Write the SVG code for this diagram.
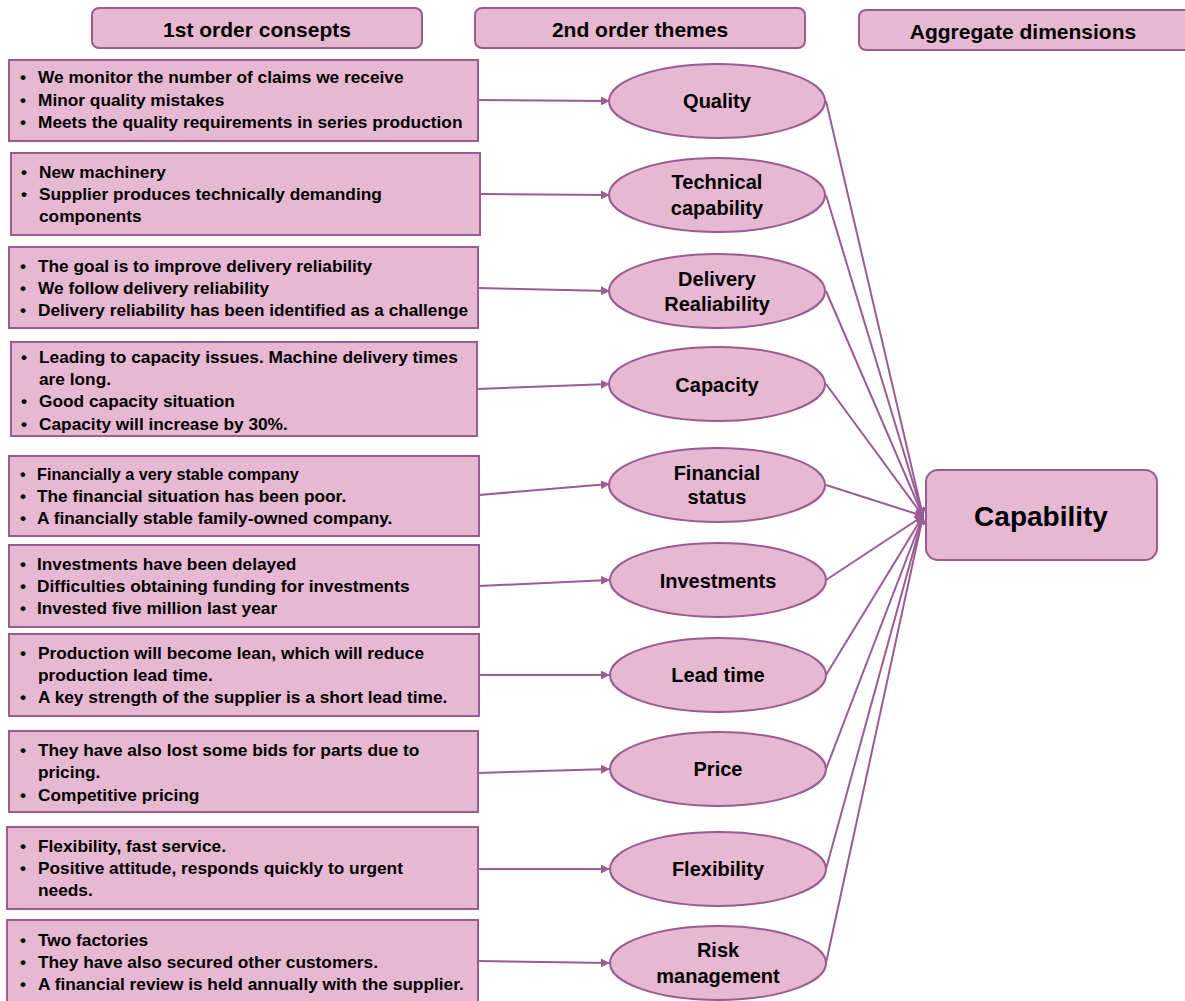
<svg xmlns="http://www.w3.org/2000/svg" width="1185" height="1001" viewBox="0 0 1185 1001">
  <style>
    .box { fill: #e6b8d2; stroke: #9b5b93; stroke-width: 2; }
    .hdr { font-family: "Liberation Sans", Arial, sans-serif; font-weight: bold; font-size: 21px; fill: #000; text-anchor: middle; dominant-baseline: central; }
    .txt { font-family: "Liberation Sans", Arial, sans-serif; font-weight: bold; font-size: 17.3px; fill: #000; dominant-baseline: central; }
    .sm { font-size: 16.2px; }
    .lbl { font-family: "Liberation Sans", Arial, sans-serif; font-weight: bold; font-size: 20px; fill: #000; text-anchor: middle; dominant-baseline: central; }
    .big { font-family: "Liberation Sans", Arial, sans-serif; font-weight: bold; font-size: 28px; fill: #000; text-anchor: middle; dominant-baseline: central; }
    .link { fill: none; stroke: #9b5b93; stroke-width: 2; marker-end: url(#arrow); }
  </style>
  <defs>
    <marker id="arrow" viewBox="0 0 10 10" refX="9" refY="5" markerWidth="4.5" markerHeight="4.5" orient="auto" markerUnits="strokeWidth">
      <path d="M0,0 L10,5 L0,10 z" fill="#9b5b93"/>
    </marker>
  </defs>

  <rect width="1185" height="1001" fill="#fff"/>

  <!-- column headers -->
  <g id="hdr-concepts"><rect class="box" x="92" y="8" width="330" height="40" rx="7"/><text class="hdr" x="257" y="29">1st order consepts</text></g>
  <g id="hdr-themes"><rect class="box" x="475" y="8" width="330" height="40" rx="7"/><text class="hdr" x="640" y="29">2nd order themes</text></g>
  <g id="hdr-dimensions"><rect class="box" x="859" y="10" width="334" height="40" rx="7"/><text class="hdr" x="1023" y="31">Aggregate dimensions</text></g>

  <!-- connectors -->
  <g id="connectors">
    <path class="link" d="M478,100 L609,101"/>
    <path class="link" d="M480,194 L609,195"/>
    <path class="link" d="M478,288 L609,291"/>
    <path class="link" d="M477,389 L609,384"/>
    <path class="link" d="M479,495 L609,484"/>
    <path class="link" d="M479,586 L609,580"/>
    <path class="link" d="M479,675 L609,675"/>
    <path class="link" d="M478,773 L609,769"/>
    <path class="link" d="M478,869 L609,869"/>
    <path class="link" d="M478,961 L609,963"/>

    <path class="link" d="M826,101 L923,516"/>
    <path class="link" d="M826,195 L923,516"/>
    <path class="link" d="M826,291 L923,516"/>
    <path class="link" d="M826,384 L923,516"/>
    <path class="link" d="M826,485 L923,516"/>
    <path class="link" d="M826,580 L923,516"/>
    <path class="link" d="M826,675 L923,516"/>
    <path class="link" d="M826,769 L923,516"/>
    <path class="link" d="M826,869 L923,516"/>
    <path class="link" d="M826,963 L923,516"/>
  </g>

  <!-- 1st order concepts -->
  <g id="c1"><rect class="box" x="9" y="60" width="469" height="81"/>
    <text class="txt" x="20" y="77">•</text><text class="txt" x="38" y="77">We monitor the number of claims we receive</text>
    <text class="txt" x="20" y="100">•</text><text class="txt" x="38" y="100">Minor quality mistakes</text>
    <text class="txt" x="20" y="122">•</text><text class="txt" x="38" y="122">Meets the quality requirements in series production</text>
  </g>
  <g id="c2"><rect class="box" x="11" y="153" width="469" height="82"/>
    <text class="txt" x="21" y="172">•</text><text class="txt" x="39" y="172">New machinery</text>
    <text class="txt" x="21" y="194">•</text><text class="txt" x="39" y="194">Supplier produces technically demanding</text>
    <text class="txt" x="39" y="216">components</text>
  </g>
  <g id="c3"><rect class="box" x="9" y="247" width="469" height="81"/>
    <text class="txt" x="20" y="266">•</text><text class="txt" x="38" y="266">The goal is to improve delivery reliability</text>
    <text class="txt" x="20" y="288">•</text><text class="txt" x="38" y="288">We follow delivery reliability</text>
    <text class="txt" x="20" y="310">•</text><text class="txt" x="38" y="310" textLength="430" lengthAdjust="spacingAndGlyphs">Delivery reliability has been identified as a challenge</text>
  </g>
  <g id="c4"><rect class="box" x="11" y="342" width="466" height="94"/>
    <text class="txt" x="21" y="357">•</text><text class="txt" x="39" y="357">Leading to capacity issues. Machine delivery times</text>
    <text class="txt" x="39" y="379">are long.</text>
    <text class="txt" x="21" y="401">•</text><text class="txt" x="39" y="401">Good capacity situation</text>
    <text class="txt" x="21" y="424">•</text><text class="txt" x="39" y="424">Capacity will increase by 30%.</text>
  </g>
  <g id="c5"><rect class="box" x="9" y="456" width="470" height="80"/>
    <text class="txt sm" x="20" y="474">•</text><text class="txt sm" x="37" y="474">Financially a very stable company</text>
    <text class="txt" x="20" y="496">•</text><text class="txt" x="37" y="496">The financial situation has been poor.</text>
    <text class="txt" x="20" y="518">•</text><text class="txt" x="37" y="518">A financially stable family-owned company.</text>
  </g>
  <g id="c6"><rect class="box" x="9" y="545" width="470" height="82"/>
    <text class="txt" x="20" y="564">•</text><text class="txt" x="37" y="564">Investments have been delayed</text>
    <text class="txt" x="20" y="586">•</text><text class="txt" x="37" y="586">Difficulties obtaining funding for investments</text>
    <text class="txt" x="20" y="608">•</text><text class="txt" x="37" y="608">Invested five million last year</text>
  </g>
  <g id="c7"><rect class="box" x="9" y="634" width="470" height="82"/>
    <text class="txt" x="20" y="653">•</text><text class="txt" x="38" y="653">Production will become lean, which will reduce</text>
    <text class="txt" x="38" y="675">production lead time.</text>
    <text class="txt" x="20" y="697">•</text><text class="txt" x="38" y="697">A key strength of the supplier is a short lead time.</text>
  </g>
  <g id="c8"><rect class="box" x="9" y="731" width="469" height="81"/>
    <text class="txt" x="20" y="750">•</text><text class="txt" x="38" y="750">They have also lost some bids for parts due to</text>
    <text class="txt" x="38" y="772">pricing.</text>
    <text class="txt" x="20" y="795">•</text><text class="txt" x="38" y="795">Competitive pricing</text>
  </g>
  <g id="c9"><rect class="box" x="7" y="827" width="471" height="82"/>
    <text class="txt" x="20" y="846">•</text><text class="txt" x="38" y="846">Flexibility, fast service.</text>
    <text class="txt" x="20" y="868">•</text><text class="txt" x="38" y="868">Positive attitude, responds quickly to urgent</text>
    <text class="txt" x="38" y="890">needs.</text>
  </g>
  <g id="c10"><rect class="box" x="7" y="920" width="471" height="84"/>
    <text class="txt" x="20" y="940">•</text><text class="txt" x="38" y="940">Two factories</text>
    <text class="txt" x="20" y="962">•</text><text class="txt" x="38" y="962">They have also secured other customers.</text>
    <text class="txt" x="20" y="984">•</text><text class="txt" x="38" y="984">A financial review is held annually with the supplier.</text>
  </g>

  <!-- 2nd order themes -->
  <g id="t-quality"><ellipse class="box" cx="717" cy="101" rx="108" ry="37"/><text class="lbl" x="717" y="101">Quality</text></g>
  <g id="t-technical"><ellipse class="box" cx="717" cy="195" rx="108" ry="37"/><text class="lbl" x="717" y="182">Technical</text><text class="lbl" x="717" y="208">capability</text></g>
  <g id="t-delivery"><ellipse class="box" cx="717" cy="291" rx="108" ry="37"/><text class="lbl" x="717" y="279">Delivery</text><text class="lbl" x="717" y="304">Realiability</text></g>
  <g id="t-capacity"><ellipse class="box" cx="717" cy="384" rx="108" ry="37"/><text class="lbl" x="717" y="385">Capacity</text></g>
  <g id="t-financial"><ellipse class="box" cx="717" cy="485" rx="108" ry="37"/><text class="lbl" x="717" y="473">Financial</text><text class="lbl" x="717" y="497">status</text></g>
  <g id="t-investments"><ellipse class="box" cx="718" cy="580" rx="108" ry="37"/><text class="lbl" x="718" y="581">Investments</text></g>
  <g id="t-leadtime"><ellipse class="box" cx="718" cy="675" rx="108" ry="37"/><text class="lbl" x="718" y="675">Lead time</text></g>
  <g id="t-price"><ellipse class="box" cx="718" cy="769" rx="108" ry="37"/><text class="lbl" x="718" y="769">Price</text></g>
  <g id="t-flexibility"><ellipse class="box" cx="718" cy="869" rx="108" ry="37"/><text class="lbl" x="718" y="869">Flexibility</text></g>
  <g id="t-risk"><ellipse class="box" cx="718" cy="963" rx="108" ry="37"/><text class="lbl" x="718" y="950">Risk</text><text class="lbl" x="718" y="976">management</text></g>

  <!-- aggregate dimension -->
  <g id="d-capability"><rect class="box" x="926" y="470" width="231" height="90" rx="12"/><text class="big" x="1041" y="516">Capability</text></g>
</svg>
